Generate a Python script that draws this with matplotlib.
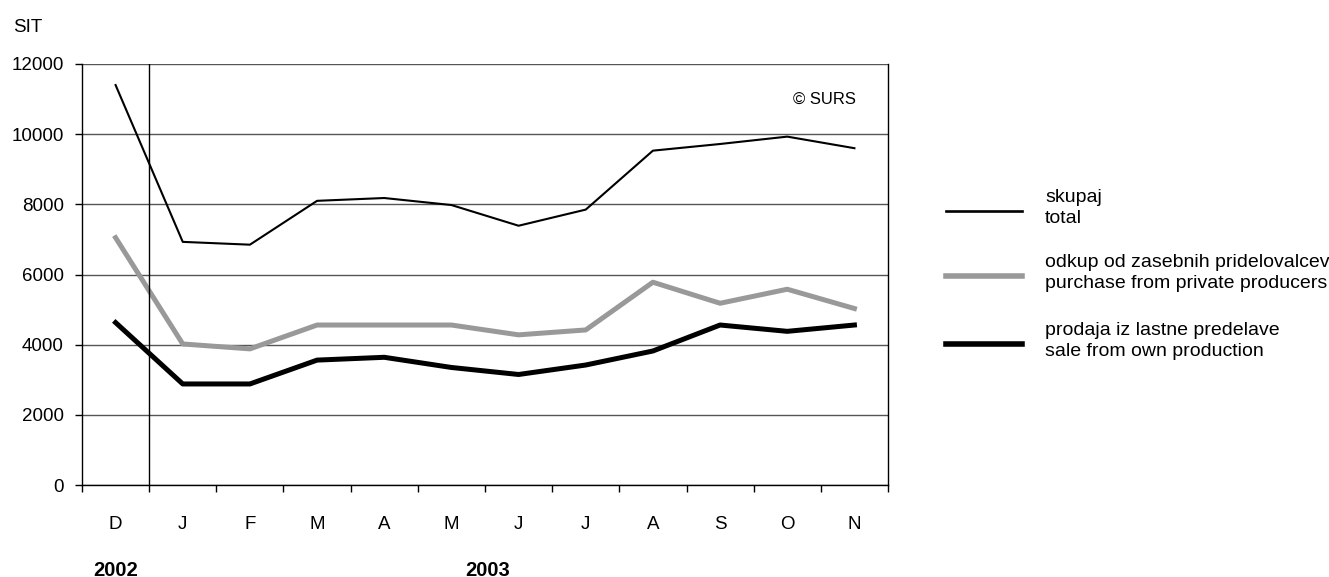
import matplotlib.pyplot as plt
from matplotlib.lines import Line2D

plt.rcParams["font.family"] = ["Liberation Sans", "DejaVu Sans"]

months = ["D", "J", "F", "M", "A", "M", "J", "J", "A", "S", "O", "N"]
total = [11400, 6930, 6850, 8100, 8180, 7980, 7390, 7850, 9530, 9720, 9930, 9600]
private = [7050, 4020, 3880, 4560, 4560, 4560, 4280, 4420, 5780, 5180, 5580, 5030]
own = [4630, 2880, 2880, 3560, 3640, 3350, 3150, 3420, 3820, 4560, 4380, 4560]
years = ["2002", "2003"]
labels = ["skupaj\ntotal",
          "odkup od zasebnih pridelovalcev\npurchase from private producers",
          "prodaja iz lastne predelave\nsale from own production"]

W, H = 1329, 577
fig = plt.figure(figsize=(W / 100, H / 100), dpi=100)
ax = fig.add_axes([82 / W, 1 - 485 / H, 806 / W, 421 / H])

x = list(range(len(months)))
styles = [("black", 1.5), ("#999999", 3.6), ("black", 3.6)]
for vals, (c, lw) in zip([total, private, own], styles):
    ax.plot(x, vals, color=c, lw=lw)

ax.set_xlim(-0.5, 11.5)
ax.set_ylim(0, 12000)
ax.set_yticks(range(0, 12001, 2000))
ax.yaxis.grid(True, color="#555555", lw=1)
ax.set_axisbelow(True)
ax.axvline(0.5, color="black", lw=1)

# category boundaries as ticks, labels centered
ax.set_xticks([i - 0.5 for i in range(13)])
ax.set_xticklabels([])
ax.set_xticks(x, minor=True)
ax.set_xticklabels(months, minor=True)
ax.tick_params(axis="x", which="major", direction="out", length=5, width=1)
ax.tick_params(axis="x", which="minor", length=0, pad=22, labelsize=13.5)
ax.tick_params(axis="y", direction="out", length=5, width=1, pad=8, labelsize=13.5)

ax.spines["top"].set_visible(False)
for s in ["left", "right", "bottom"]:
    ax.spines[s].set_linewidth(1)

fig.text(13 / W, 1 - 27 / H, "SIT", fontsize=13.5, va="center")
ax.text(10.55, 11000, "© SURS", fontsize=12, ha="center", va="center")

fig.text(116 / W, 1 - 570 / H, years[0], fontsize=14.5, fontweight="bold", ha="center", va="center")
fig.text(488 / W, 1 - 570 / H, years[1], fontsize=14.5, fontweight="bold", ha="center", va="center")

# legend drawn by hand to match the uneven spacing
for y, (c, lw), lab in zip([211, 276, 344], styles, labels):
    yf = 1 - y / H
    fig.add_artist(Line2D([946 / W, 1022 / W], [yf, yf], color=c, lw=lw + 0.4,
                          transform=fig.transFigure))
    fig.text(1045 / W, 1 - (y - 3) / H, lab, fontsize=14, va="center", linespacing=1.25)

fig.savefig("out.png", dpi=100)
